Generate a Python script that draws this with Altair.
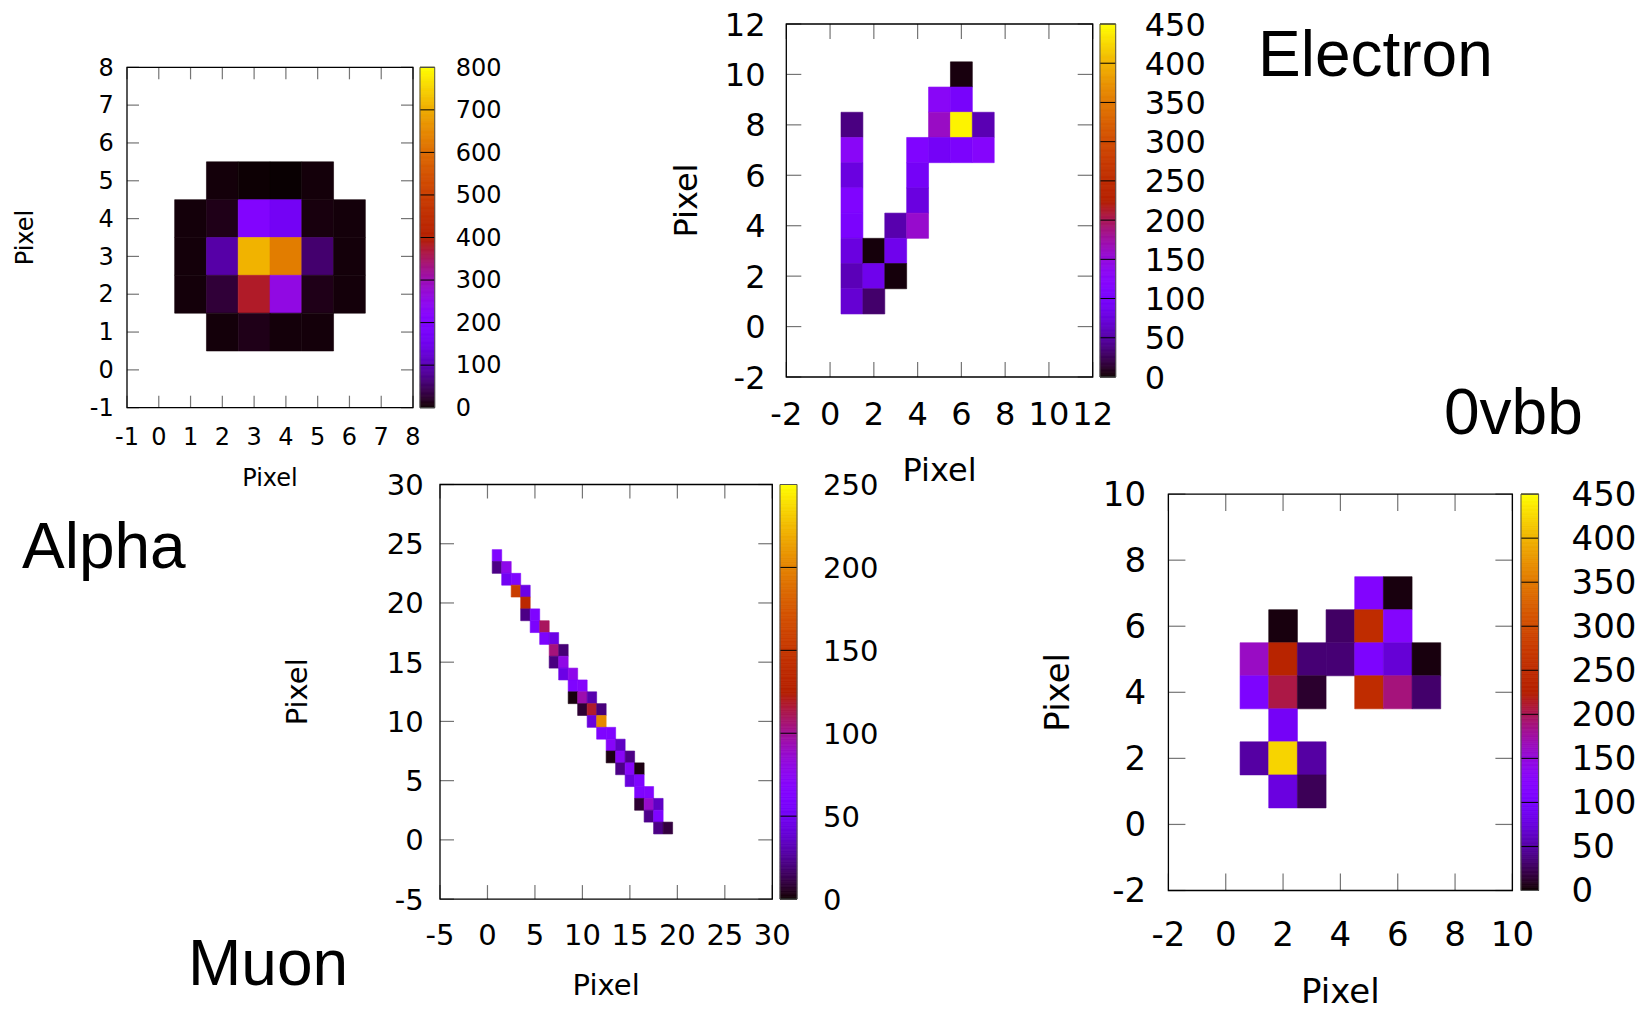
import math

import altair as alt
import pandas as pd

W, H = 1645, 1011
TICK_FONT = "DejaVu Sans"
NAME_FONT = "Liberation Sans"
TICK_COLOR = "#3a3a3a"
AXIS_TITLE = "Pixel"

# ---- Alpha event: pixel column, pixel row, deposited charge
ALPHA_X = [2, 3, 4, 5, 1, 2, 3, 4, 5, 6, 1, 2, 3, 4, 5, 6, 1, 2, 3, 4, 5, 6, 2, 3, 4, 5]
ALPHA_Y = [5, 5, 5, 5, 4, 4, 4, 4, 4, 4, 3, 3, 3, 3, 3, 3, 2, 2, 2, 2, 2, 2, 1, 1, 1, 1]
ALPHA_E = [5, 2, 1, 5, 5, 12, 205, 165, 7, 5, 5, 91, 710, 630, 57, 5, 5, 28, 380, 260, 12, 5,
           5, 12, 5, 5]

# ---- Electron event
ELECTRON_X = [1, 1, 1, 1, 1, 1, 1, 1, 2, 2, 2, 3, 3, 3, 4, 4, 4, 4, 5, 5, 5, 6, 6, 6, 6, 7, 7]
ELECTRON_Y = [8, 7, 6, 5, 4, 3, 2, 1, 3, 2, 1, 4, 3, 2, 7, 6, 5, 4, 9, 8, 7, 10, 9, 8, 7, 8, 7]
ELECTRON_E = [38, 130, 77, 112, 104, 77, 58, 70, 3, 85, 31, 54, 86, 3, 112, 95, 77, 158,
              130, 162, 95, 4, 100, 443, 106, 56, 122]

# ---- Muon event
MUON_X = [1, 1, 2, 2, 3, 3, 4, 4, 4, 5, 5, 6, 6, 7, 7, 8, 7, 8, 8, 9, 9, 10, 9, 10, 11,
          10, 11, 12, 11, 12, 12, 13, 13, 14, 13, 14, 15, 14, 15, 16, 15, 16, 16, 17,
          16, 17, 18, 17, 18, 18, 19]
MUON_Y = [24, 23, 23, 22, 22, 21, 21, 20, 19, 19, 18, 18, 17, 17, 16, 16, 15, 15, 14, 14,
          13, 13, 12, 12, 12, 11, 11, 11, 10, 10, 9, 9, 8, 8, 7, 7, 7, 6, 6, 6, 5, 5, 4, 4,
          3, 3, 3, 2, 2, 1, 1]
MUON_E = [62, 22, 78, 50, 62, 155, 45, 135, 22, 62, 58, 110, 60, 45, 105, 19, 21, 80, 45,
          78, 62, 68, 2, 95, 30, 8, 118, 20, 42, 203, 62, 62, 70, 35, 3, 72, 22, 22, 70, 3,
          42, 62, 62, 65, 8, 88, 35, 23, 62, 22, 10]

# ---- Neutrinoless double beta event
BB_X = [5, 6, 2, 4, 5, 6, 1, 2, 3, 4, 5, 6, 7, 1, 2, 3, 5, 6, 7, 2, 1, 2, 3, 2, 3]
BB_Y = [7, 7, 6, 6, 6, 6, 5, 5, 5, 5, 5, 5, 5, 4, 4, 4, 4, 4, 4, 3, 2, 2, 2, 1, 1]
BB_E = [117, 4, 4, 29, 252, 120, 162, 234, 34, 34, 108, 72, 4, 108, 205, 13, 252, 189, 31,
        95, 50, 423, 50, 77, 25]

NAMES = ["Alpha", "Electron", "Muon", "0vbb"]


def gnuplot_rgb(f):
    """gnuplot's default pm3d palette: rgbformulae 7,5,15."""
    r = math.sqrt(f)
    g = f ** 3
    b = max(0.0, math.sin(2 * math.pi * f))
    return "#%02x%02x%02x" % tuple(round(255 * c) for c in (r, g, b))


# dense stops near zero, where sqrt() changes quickly
STOPS = [0, 0.001, 0.003, 0.006, 0.01, 0.015, 0.02, 0.03, 0.04, 0.05, 0.065, 0.08] + \
        [k / 40 for k in range(4, 41)]
PALETTE = [gnuplot_rgb(f) for f in STOPS]


def gnuplot_scale(cmax):
    return alt.Scale(domain=[cmax * f for f in STOPS], range=PALETTE, interpolate="rgb")


def heat_panel(xs, ys, es, lo, hi, step, box, cmax, fs, tick_len, pad_x, pad_y,
               title_y, title_x):
    left, right, top, bottom = box
    xsc = alt.Scale(domain=[lo, hi], range=[left, right], nice=False, zero=False)
    ysc = alt.Scale(domain=[lo, hi], range=[bottom, top], nice=False, zero=False)
    ticks = list(range(lo, hi + 1, step))

    def X(f):
        return alt.X(f, scale=xsc, axis=None)

    def Y(f):
        return alt.Y(f, scale=ysc, axis=None)

    cells = pd.DataFrame({"px": xs, "py": ys, "e": es})
    heat = (
        alt.Chart(cells)
        .transform_calculate(x0="datum.px - 0.5", x1="datum.px + 0.5",
                             y0="datum.py - 0.5", y1="datum.py + 0.5")
        .mark_rect(strokeWidth=0.6)
        .encode(
            x=X("x0:Q"), x2="x1:Q", y=Y("y0:Q"), y2="y1:Q",
            color=alt.Color("e:Q", scale=gnuplot_scale(cmax), legend=None),
            stroke=alt.Stroke("e:Q", scale=gnuplot_scale(cmax), legend=None),
        )
    )

    tk = pd.DataFrame({"t": ticks, "lab": [str(t) for t in ticks], "lo": lo, "hi": hi})
    base = alt.Chart(tk)
    half = tick_len / 2

    def inward(orient, xf, yf, **offset):
        return base.mark_tick(orient=orient, size=tick_len, thickness=1.2,
                              color=TICK_COLOR, **offset).encode(x=X(xf), y=Y(yf))

    tick_marks = [
        inward("vertical", "t:Q", "lo:Q", yOffset=-half),
        inward("vertical", "t:Q", "hi:Q", yOffset=half),
        inward("horizontal", "lo:Q", "t:Q", xOffset=half),
        inward("horizontal", "hi:Q", "t:Q", xOffset=-half),
    ]
    frame = (
        alt.Chart(pd.DataFrame({"a": [lo], "b": [hi]}))
        .mark_rect(fill="transparent", stroke="black", strokeWidth=1.3)
        .encode(x=X("a:Q"), x2="b:Q", y=Y("a:Q"), y2="b:Q")
    )

    def text(data, **mk):
        return alt.Chart(data).mark_text(font=TICK_FONT, fontSize=fs, color="black", **mk)

    x_labels = text(tk, align="center", baseline="top", yOffset=pad_x).encode(
        x=X("t:Q"), y=Y("lo:Q"), text="lab:N")
    y_labels = text(tk, align="right", baseline="middle", xOffset=-pad_y,
                    yOffset=round(0.05 * fs, 1)).encode(
        x=X("lo:Q"), y=Y("t:Q"), text="lab:N")
    ttl = pd.DataFrame({"mid": [(lo + hi) / 2], "lo": [lo], "name": [AXIS_TITLE]})
    x_title = text(ttl, align="center", baseline="alphabetic", yOffset=title_y).encode(
        x=X("mid:Q"), y=Y("lo:Q"), text="name:N")
    y_title = text(ttl, align="center", baseline="alphabetic", angle=270,
                   xOffset=title_x).encode(x=X("lo:Q"), y=Y("mid:Q"), text="name:N")
    return alt.layer(heat, *tick_marks, frame, x_labels, y_labels, x_title, y_title)


def colorbar(cmax, cstep, top, bottom, cb_left, cb_right, fs, pad):
    csx = alt.Scale(domain=[0, 1], range=[cb_left, cb_right], nice=False, zero=False)
    csy = alt.Scale(domain=[0, cmax], range=[bottom, top], nice=False, zero=False)
    band = cmax / 300
    values = list(range(0, cmax + 1, cstep))
    bands = (
        alt.Chart(alt.sequence(0, cmax, band, as_="v"))
        .transform_calculate(v2=f"datum.v + {band}", vm=f"datum.v + {band / 2}",
                             c0="0", c1="1")
        .mark_rect(strokeWidth=0.8)
        .encode(
            x=alt.X("c0:Q", scale=csx, axis=None), x2="c1:Q",
            y=alt.Y("v:Q", scale=csy, axis=None), y2="v2:Q",
            color=alt.Color("vm:Q", scale=gnuplot_scale(cmax), legend=None),
            stroke=alt.Stroke("vm:Q", scale=gnuplot_scale(cmax), legend=None),
        )
    )
    levels = pd.DataFrame({"v": values, "lab": [str(v) for v in values], "c0": 0, "c1": 1})
    level_lines = (
        alt.Chart(levels)
        .mark_rule(color="black", strokeWidth=1)
        .encode(x=alt.X("c0:Q", scale=csx, axis=None), x2="c1:Q",
                y=alt.Y("v:Q", scale=csy, axis=None))
    )
    level_labels = (
        alt.Chart(levels)
        .mark_text(font=TICK_FONT, fontSize=fs, color="black", align="left",
                   baseline="middle", xOffset=pad, yOffset=round(0.05 * fs, 1))
        .encode(x=alt.X("c1:Q", scale=csx, axis=None),
                y=alt.Y("v:Q", scale=csy, axis=None), text="lab:N")
    )
    outline = (
        alt.Chart(pd.DataFrame({"a": [0], "b": [1], "lo": [0], "hi": [cmax]}))
        .mark_rect(fill="transparent", stroke="#555555", strokeWidth=1)
        .encode(x=alt.X("a:Q", scale=csx, axis=None), x2="b:Q",
                y=alt.Y("lo:Q", scale=csy, axis=None), y2="hi:Q")
    )
    return alt.layer(bands, level_lines, outline, level_labels)


def name_label(text, x, y, size):
    return (
        alt.Chart(pd.DataFrame({"name": [text]}))
        .mark_text(font=NAME_FONT, fontSize=size, align="left", baseline="alphabetic",
                   color="black")
        .encode(text="name:N", x=alt.value(x), y=alt.value(y))
    )


layers = [
    heat_panel(ALPHA_X, ALPHA_Y, ALPHA_E, -1, 8, 1, (127, 413, 67.3, 407.7), 800,
               fs=24, tick_len=12, pad_x=18, pad_y=13.3, title_y=78, title_x=-94),
    colorbar(800, 100, 67.3, 407.7, 420, 434.7, fs=24, pad=21),
    heat_panel(ELECTRON_X, ELECTRON_Y, ELECTRON_E, -2, 12, 2, (786.3, 1092.7, 24, 377), 450,
               fs=32, tick_len=15, pad_x=23, pad_y=20.8, title_y=104, title_x=-89.6),
    colorbar(450, 50, 24, 377, 1100, 1115.7, fs=32, pad=29),
    heat_panel(MUON_X, MUON_Y, MUON_E, -5, 30, 5, (440, 772.3, 484.5, 899.1), 250,
               fs=29, tick_len=14, pad_x=23, pad_y=16.3, title_y=95.5, title_x=-133.5),
    colorbar(250, 50, 484.5, 899.1, 780, 797, fs=29, pad=26),
    heat_panel(BB_X, BB_Y, BB_E, -2, 10, 2, (1168.4, 1512.4, 494.1, 890.5), 450,
               fs=34, tick_len=17, pad_x=28, pad_y=22.3, title_y=112, title_x=-99.4),
    colorbar(450, 50, 494.1, 890.5, 1521, 1538.6, fs=34, pad=33),
    name_label(NAMES[0], 22, 568, 64),
    name_label(NAMES[1], 1258, 76, 64),
    name_label(NAMES[2], 188, 985, 64),
    name_label(NAMES[3], 1444, 434, 64),
]

chart = (
    alt.layer(*layers)
    .resolve_scale(x="independent", y="independent", color="independent",
                   stroke="independent")
    .properties(width=W, height=H, autosize=alt.AutoSizeParams(type="none"), padding=0,
                background="white")
    .configure_view(strokeWidth=0)
)

chart.save("out.html", embed_options={"renderer": "svg", "actions": False})
